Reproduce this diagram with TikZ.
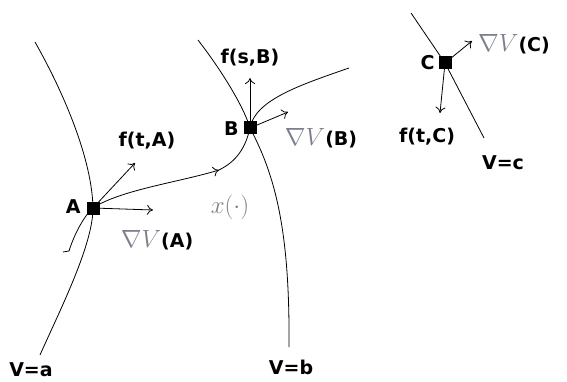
\documentclass[tikz,border=0pt]{standalone}
\usepackage{fontspec}
\setmainfont{DejaVu Sans}
\usetikzlibrary{arrows.meta}
\tikzset{
  pt/.style={fill=black,minimum size=13pt,inner sep=0pt},
  lbl/.style={font=\fontsize{19}{22}\selectfont\bfseries,inner sep=1pt},
  vec/.style={-{To[length=6pt,width=10pt]}},
}
\definecolor{mathgray}{RGB}{125,128,140}
\newcommand{\gradlbl}[1]{{\color{mathgray}\fontsize{25}{28}\selectfont$\nabla V$}(#1)}
\begin{document}
\begin{tikzpicture}[x=1pt,y=-1pt,line width=0.8pt]
  \useasboundingbox (0,0) rectangle (567,382);
  % points
  \node[pt] (A) at (93,208) {};
  \node[pt] (B) at (250,128) {};
  \node[pt] (C) at (445,63) {};
  \node[lbl,anchor=east] (la) at (82,207) {A};
  \node[lbl,anchor=east] (lb) at (240,129) {B};
  \node[lbl,anchor=east] (lc) at (436,63) {C};
  % level sets
  \coordinate (a1) at (35,42);
  \coordinate (a2) at (40,355);
  \coordinate (b1) at (198,40);
  \coordinate (b2) at (289,347);
  \coordinate (c1) at (411,13);
  \coordinate (c2) at (484,138);
  \draw (a1) .. controls (65,95) and (92,160) .. (A.center)
             .. controls (93,245) and (60,310) .. (a2);
  \draw (b1) .. controls (225,75) and (245,110) .. (B.center)
             .. controls (275,175) and (290,230) .. (b2);
  \draw (c1) -- (C.center) -- (c2);
  \node[lbl] (va) at (31,370) {V=a};
  \node[lbl] (vb) at (291,367) {V=b};
  \node[lbl] (vc) at (503,163) {V=c};
  % trajectory
  \coordinate (x0) at (63,252);
  \coordinate (xm) at (219,170);
  \coordinate (x1) at (349,68);
  \draw (x0) -- (69,251) .. controls (75,232) and (85,215) .. (A.center);
  \draw[vec] (A.center) .. controls (120,190) and (180,182) .. (xm);
  \draw (xm) .. controls (235,162) and (245,150) .. (B.center);
  \draw (B.center) .. controls (255,100) and (300,85) .. (x1);
  \node (xl) at (230,207) {\color{mathgray}\fontsize{25}{28}\selectfont$x(\cdot)$};
  % vectors
  \coordinate (fa) at (135,163);
  \coordinate (ga) at (153,210);
  \coordinate (fb) at (250,78);
  \coordinate (gb) at (288,112);
  \coordinate (fc) at (440,113);
  \coordinate (gc) at (472,41);
  \draw[vec] (A.center) -- (fa);
  \draw[vec] (A.center) -- (ga);
  \draw[vec] (B.center) -- (fb);
  \draw[vec] (B.center) -- (gb);
  \draw[vec] (C.center) -- (fc);
  \draw[vec] (C.center) -- (gc);
  \node[lbl] (lfa) at (147,141) {f(t,A)};
  \node[lbl] (lga) at (157,240) {\gradlbl{A}};
  \node[lbl] (lfb) at (250,58) {f(s,B)};
  \node[lbl] (lgb) at (321,138) {\gradlbl{B}};
  \node[lbl] (lfc) at (427,137) {f(t,C)};
  \node[lbl] (lgc) at (514,44) {\gradlbl{C}};
\end{tikzpicture}
\end{document}
